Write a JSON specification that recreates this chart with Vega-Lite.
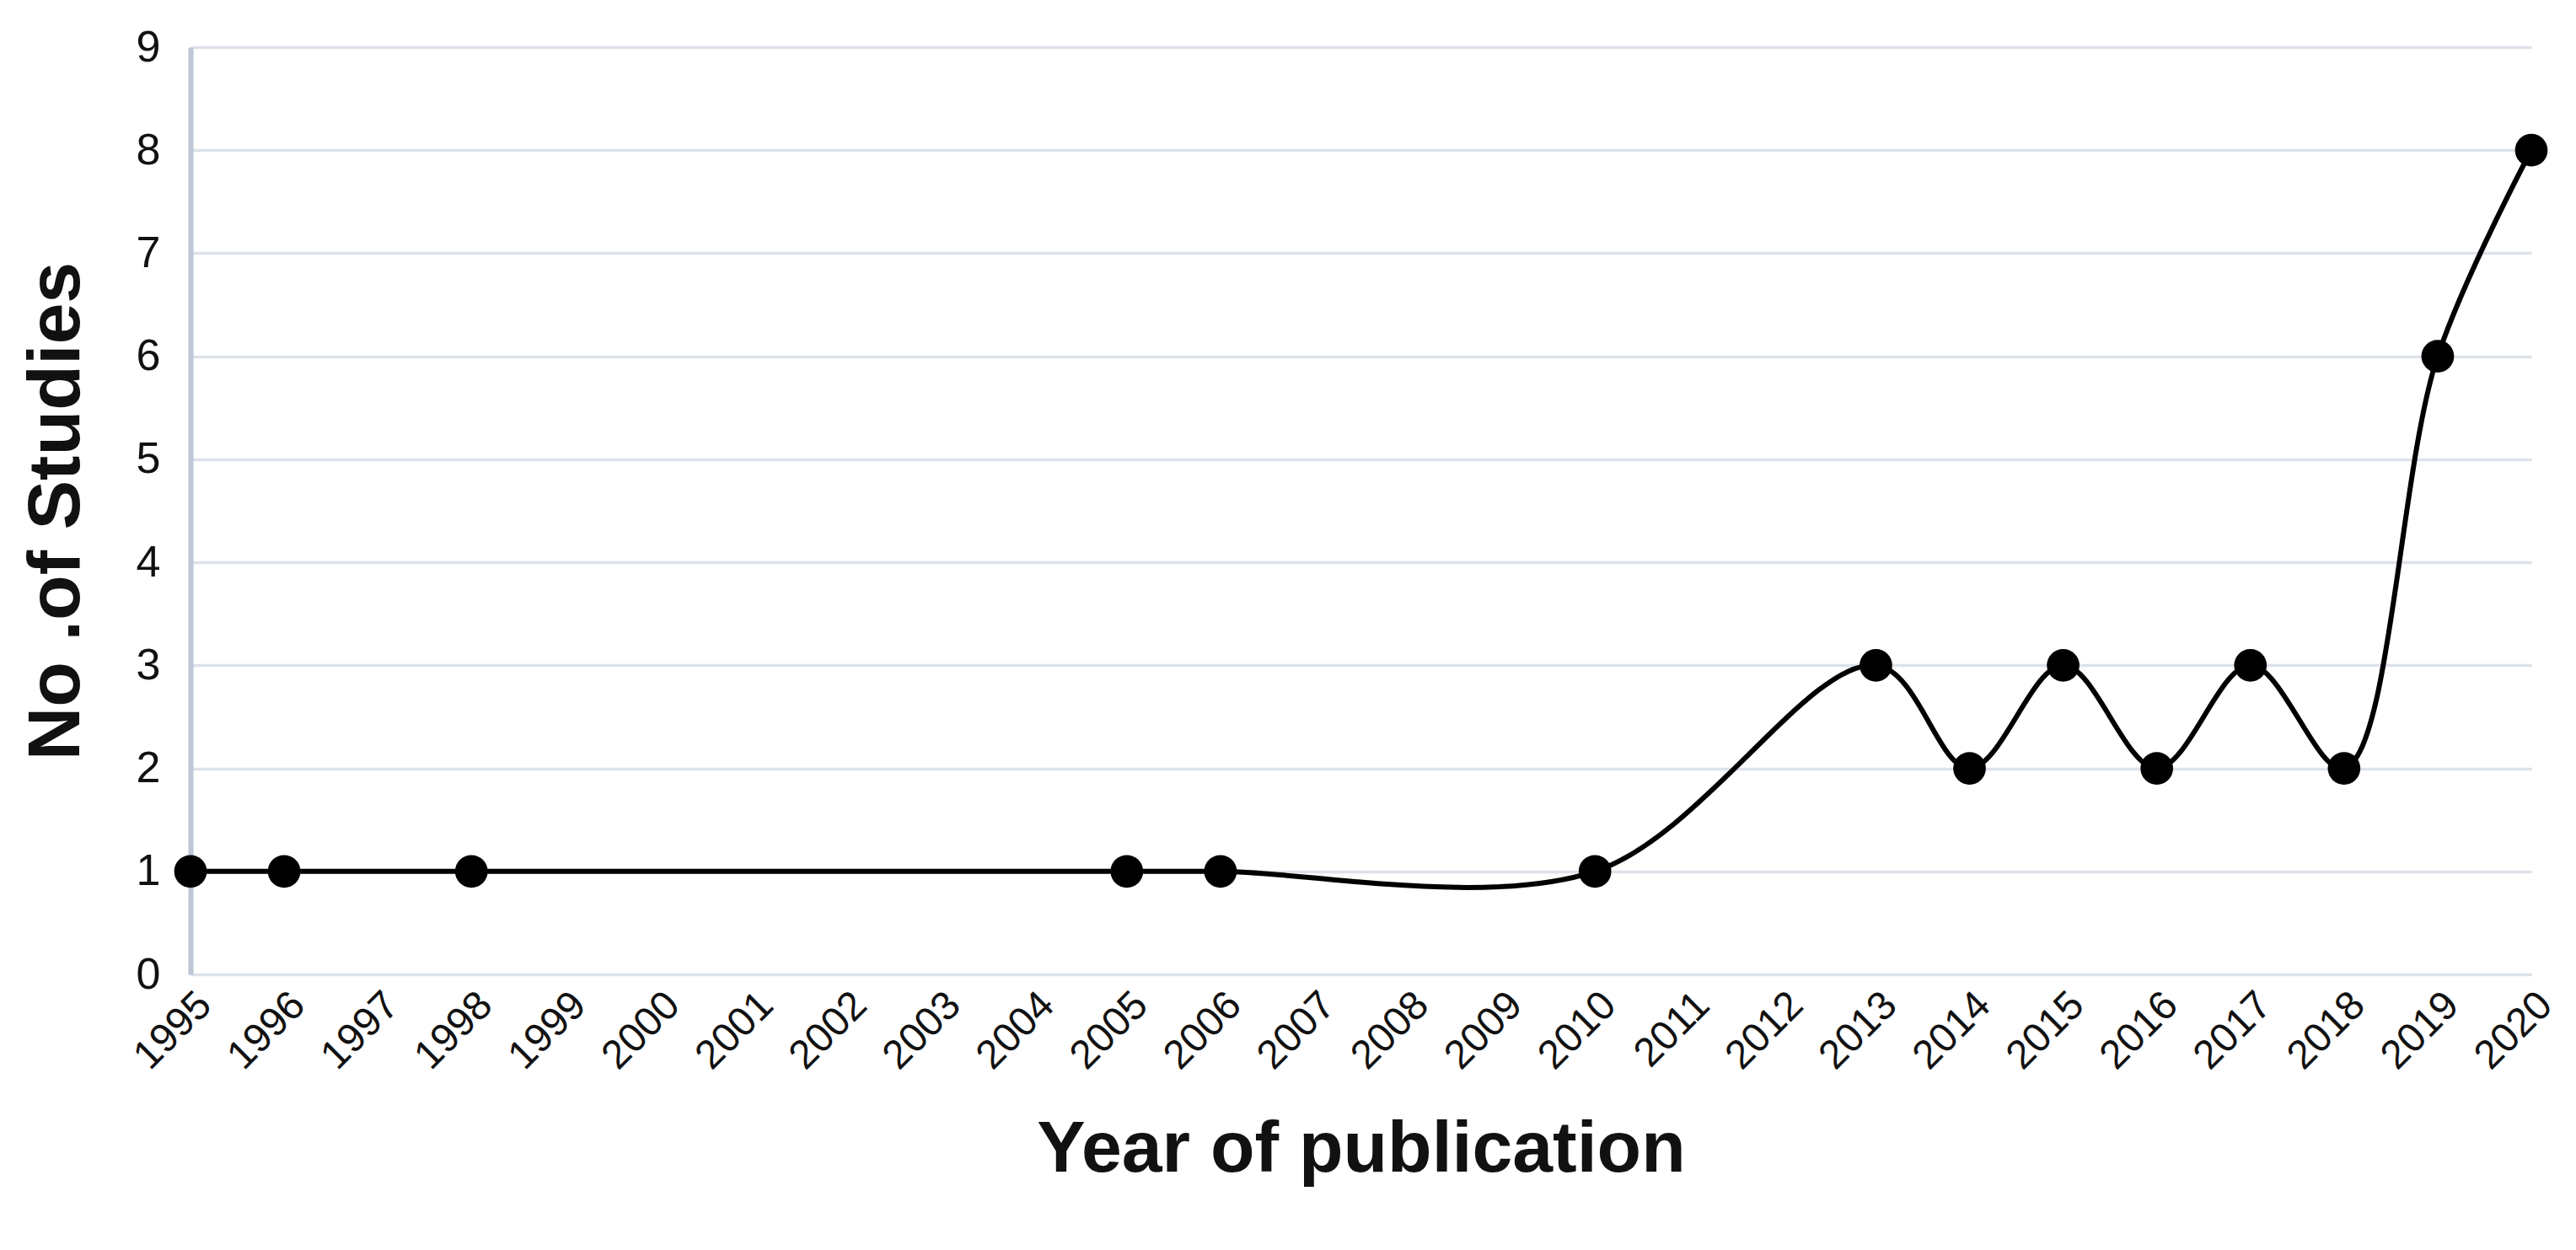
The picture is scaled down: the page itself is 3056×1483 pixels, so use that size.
{
  "$schema": "https://vega.github.io/schema/vega-lite/v6.json",
  "width": 2777,
  "height": 1100,
  "autosize": {"type": "none"},
  "padding": {"left": 226, "top": 56, "right": 53, "bottom": 327},
  "background": "white",
  "config": {
    "view": {"stroke": null},
    "font": "Liberation Sans"
  },
  "data": {
    "values": [
      {"year": 1995, "studies": 1},
      {"year": 1996, "studies": 1},
      {"year": 1998, "studies": 1},
      {"year": 2005, "studies": 1},
      {"year": 2006, "studies": 1},
      {"year": 2010, "studies": 1},
      {"year": 2013, "studies": 3},
      {"year": 2014, "studies": 2},
      {"year": 2015, "studies": 3},
      {"year": 2016, "studies": 2},
      {"year": 2017, "studies": 3},
      {"year": 2018, "studies": 2},
      {"year": 2019, "studies": 6},
      {"year": 2020, "studies": 8}
    ]
  },
  "encoding": {
    "x": {
      "field": "year",
      "type": "quantitative",
      "scale": {"domain": [1995, 2020], "nice": false, "zero": false},
      "axis": {
        "title": "Year of publication",
        "titleFontSize": 86,
        "titleFontWeight": "bold",
        "titleColor": "#111111",
        "titlePadding": 44,
        "values": [1995,1996,1997,1998,1999,2000,2001,2002,2003,2004,2005,2006,2007,2008,2009,2010,2011,2012,2013,2014,2015,2016,2017,2018,2019,2020],
        "format": "d",
        "labelAngle": -45,
        "labelAlign": "right",
        "labelBaseline": "top",
        "labelFontSize": 48,
        "labelColor": "#111111",
        "labelPadding": 12,
        "labelOverlap": false,
        "labelBound": false,
        "labelFlush": false,
        "ticks": false,
        "domain": false,
        "grid": false
      }
    },
    "y": {
      "field": "studies",
      "type": "quantitative",
      "scale": {"domain": [0, 9], "nice": false},
      "axis": {
        "title": "No .of Studies",
        "titleFontSize": 88,
        "titleFontWeight": "bold",
        "titleColor": "#111111",
        "titlePadding": 50,
        "values": [0,1,2,3,4,5,6,7,8,9],
        "labelFontSize": 52,
        "labelColor": "#111111",
        "labelPadding": 36,
        "ticks": false,
        "domain": true,
        "domainColor": "#bcc6d4",
        "domainWidth": 6,
        "grid": true,
        "gridColor": "#dde2ea",
        "gridWidth": 3.5
      }
    }
  },
  "layer": [
    {
      "mark": {"type": "line", "interpolate": "catmull-rom", "color": "black", "strokeWidth": 6}
    },
    {
      "mark": {"type": "point", "filled": true, "color": "black", "opacity": 1, "size": 1500, "shape": "circle"}
    }
  ]
}
